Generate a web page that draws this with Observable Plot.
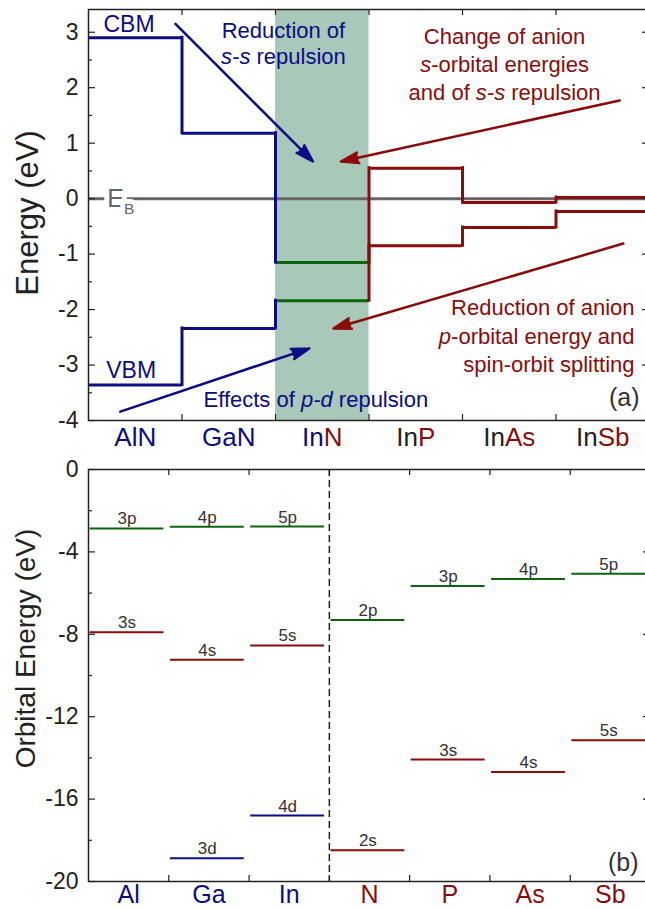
<!DOCTYPE html>
<html><head><meta charset="utf-8">
<script src="https://cdn.jsdelivr.net/npm/d3@7"></script>
<script src="https://cdn.jsdelivr.net/npm/@observablehq/plot@0.6"></script>
<style>
html,body{margin:0;padding:0;background:#fff;overflow:hidden;}
#chart svg{display:block;}
</style></head><body><div id="chart"></div>
<script>
// ---------------- DATA: panel (a) band edges ----------------
const cations = ["Al", "Ga", "In", "In", "In", "In"];
const anions  = ["N", "N", "N", "P", "As", "Sb"];
const cbm = [2.90, 1.18, -1.15, 0.55, -0.07, 0.02];
const vbm = [-3.36, -2.34, -1.84, -0.85, -0.52, -0.23];
const energyTicks = [-4, -3, -2, -1, 0, 1, 2, 3];
const energyMinorTicks = [-3.5, -2.5, -1.5, -0.5, 0.5, 1.5, 2.5];
const highlighted = ["InN"];

// annotations (data coordinates)
const edgeLabels = [{text: "CBM", x: 0.16, y: 3.14}, {text: "VBM", x: 0.19, y: -3.10}];
const refLabel = [{text: "E_{B}", x: 0.2, y: 0}];
const noteSS = [{text: "Reduction of\n*s-s* repulsion", x: 2.085, y: 2.43}];
const noteAnionS = [{text: "Change of anion\n*s*-orbital energies\nand of *s-s* repulsion", x: 4.45, y: 1.78}];
const noteAnionP = [{text: "Reduction of anion\n*p*-orbital energy and\nspin-orbit splitting", x: 5.84, y: -3.13}];
const notePD = [{text: "Effects of *p-d* repulsion", x: 1.23, y: -3.75}];
const blueArrows = [{x1: 0.93, y1: 3.15, x2: 2.40, y2: 0.67}, {x1: 0.34, y1: -3.84, x2: 2.36, y2: -2.70}];
const redArrows = [{x1: 5.68, y1: 1.77, x2: 2.70, y2: 0.67}, {x1: 5.72, y1: -0.81, x2: 2.62, y2: -2.34}];

// ---------------- DATA: panel (b) atomic orbital energies ----------------
const elements = ["Al", "Ga", "In", "N", "P", "As", "Sb"];
const cationElements = ["Al", "Ga", "In"];
const pEnergy = [-2.86, -2.78, -2.77, -7.31, -5.66, -5.32, -5.06];
const pName   = ["3p", "4p", "5p", "2p", "3p", "4p", "5p"];
const sEnergy = [-7.90, -9.24, -8.54, -18.48, -14.08, -14.69, -13.14];
const sName   = ["3s", "4s", "5s", "2s", "3s", "4s", "5s"];
const dElements = ["Ga", "In"];
const dEnergy = [-18.87, -16.80];
const dName   = ["3d", "4d"];
const orbitalTicks = [-20, -16, -12, -8, -4, 0];
const orbitalMinorTicks = [-18, -14, -10, -6, -2];

// ---------------- styles ----------------
const BLUE = "#0c0c86", RED = "#8c0b0b", GREEN = "#0d650d", GRAY = "#666666", BAND = "#a8c8b9", INK = "#222222";
const FONT = "'Liberation Sans', Arial, Helvetica, sans-serif";
const W = 645;
const ML = 88, MR = -4;
const NS = "http://www.w3.org/2000/svg";

function rich(svg) {
  const leaves = [];
  svg.querySelectorAll("text").forEach(t => {
    const kids = t.querySelectorAll("tspan");
    if (kids.length) kids.forEach(k => leaves.push(k)); else leaves.push(t);
  });
  for (const el of leaves) {
    const s = el.textContent;
    if (!/\*|_\{/.test(s)) continue;
    el.textContent = "";
    for (const m of s.matchAll(/\*([^*]+)\*|_\{([^}]+)\}|([^*_]+)/g)) {
      const ts = document.createElementNS(NS, "tspan");
      if (m[1]) { ts.textContent = m[1]; ts.setAttribute("font-style", "italic"); }
      else if (m[2]) { ts.textContent = m[2]; ts.setAttribute("font-size", "0.62em"); ts.setAttribute("dy", "0.5em"); }
      else ts.textContent = m[3];
      el.appendChild(ts);
    }
  }
}

// ---------------- panel (a) ----------------
const HA = 455, MTA = 9, MBA = 35;
const FWA = W - ML - MR, FHA = HA - MTA - MBA;
const stepColor = i => cations[i] !== "In" ? BLUE : anions[i] === "N" ? GREEN : RED;
const steps = [];
const risers = [];
for (const v of [cbm, vbm]) {
  v.forEach((e, i) => {
    steps.push({i, e, c: stepColor(i)});
    if (i > 0) risers.push({i, e0: v[i - 1], e1: e, c: stepColor(i) === GREEN ? stepColor(i - 1) : stepColor(i)});
  });
}
const compounds = cations.map((c, i) => c + anions[i]);
const bandIdx = highlighted.map(n => compounds.indexOf(n));
const boundariesA = d3.range(1, compounds.length);

const plotA = Plot.plot({
  width: W, height: HA, marginLeft: ML, marginRight: MR, marginTop: MTA, marginBottom: MBA,
  style: {fontFamily: FONT, background: "white", color: INK},
  x: {domain: [0, compounds.length], axis: null},
  y: {domain: [-4, 3.41]},
  color: {type: "identity"},
  marks: [
    Plot.rect(bandIdx, {x1: d => d, x2: d => d + 1, fill: BAND}),
    Plot.ruleY([0], {stroke: GRAY, strokeWidth: 3}),
    Plot.ruleY(steps, {y: "e", x1: "i", x2: d => d.i + 1, stroke: "c", strokeWidth: 3}),
    Plot.ruleX(risers, {x: "i", y1: "e0", y2: "e1", stroke: "c", strokeWidth: 3, strokeLinecap: "square"}),
    Plot.frame({stroke: INK, strokeWidth: 1.5}),
    Plot.tickY(energyTicks, {y: d => d, stroke: INK, strokeWidth: 1.2, insetRight: FWA - 7}),
    Plot.tickY(energyMinorTicks, {y: d => d, stroke: INK, strokeWidth: 1.2, insetRight: FWA - 4}),
    Plot.tickY(energyTicks, {y: d => d, stroke: INK, strokeWidth: 1.2, insetLeft: FWA - 7}),
    Plot.tickY(energyMinorTicks, {y: d => d, stroke: INK, strokeWidth: 1.2, insetLeft: FWA - 4}),
    Plot.tickX(boundariesA, {x: d => d, stroke: INK, strokeWidth: 1.2, insetBottom: FHA - 6}),
    Plot.tickX(boundariesA, {x: d => d, stroke: INK, strokeWidth: 1.2, insetTop: FHA - 6}),
    Plot.axisY({ticks: energyTicks, tickSize: 0, tickPadding: 10, tickFormat: d => String(d), fontSize: 23, label: null, fill: INK}),
    Plot.text(["Energy (eV)"], {text: d => d, frameAnchor: "left", rotate: -90, dx: -51, dy: -2, textAnchor: "middle", lineAnchor: "bottom", fontSize: 31, fill: INK}),
    Plot.text(compounds, {x: (d, i) => i + 0.5, text: d => d, frameAnchor: "bottom", dy: 25, lineAnchor: "bottom", fontSize: 26, ariaDescription: "compound-labels"}),
    Plot.text(refLabel, {x: "x", y: "y", text: "text", textAnchor: "start", fontSize: 25, fill: GRAY, stroke: "white", strokeWidth: 10}),
    Plot.text(edgeLabels, {x: "x", y: "y", text: "text", textAnchor: "start", fontSize: 23, fill: BLUE}),
    Plot.text(noteSS, {x: "x", y: "y", text: "text", textAnchor: "middle", lineAnchor: "bottom", lineHeight: 1.18, fontSize: 22, fill: BLUE}),
    Plot.text(notePD, {x: "x", y: "y", text: "text", textAnchor: "start", lineAnchor: "bottom", fontSize: 22, fill: BLUE}),
    Plot.text(noteAnionS, {x: "x", y: "y", text: "text", textAnchor: "middle", lineAnchor: "bottom", lineHeight: 1.27, fontSize: 22, fill: RED}),
    Plot.text(noteAnionP, {x: "x", y: "y", text: "text", textAnchor: "end", lineAnchor: "bottom", lineHeight: 1.29, fontSize: 22, fill: RED}),
    Plot.arrow(blueArrows, {x1: "x1", y1: "y1", x2: "x2", y2: "y2", stroke: BLUE, fill: BLUE, strokeWidth: 2.5, headLength: 11, headAngle: 34}),
    Plot.arrow(redArrows, {x1: "x1", y1: "y1", x2: "x2", y2: "y2", stroke: RED, fill: RED, strokeWidth: 2.5, headLength: 11, headAngle: 34}),
    Plot.text(["(a)"], {text: d => d, frameAnchor: "bottom-right", dx: -10, dy: -15, textAnchor: "end", lineAnchor: "bottom", fontSize: 25, fill: "#333"})
  ]
});
rich(plotA);
plotA.querySelectorAll('g[aria-description="compound-labels"] text').forEach((t, i) => {
  t.textContent = "";
  const parts = [[cations[i], anions[i] === "N" ? BLUE : INK], [anions[i], cations[i] === "In" ? RED : BLUE]];
  for (const [s, c] of parts) {
    const ts = document.createElementNS(NS, "tspan");
    ts.textContent = s; ts.setAttribute("fill", c); t.appendChild(ts);
  }
});

// ---------------- panel (b) ----------------
const HB = 454, MTB = 14, MBB = 28, MRB = -5;
const FWB = W - ML - MRB, FHB = HB - MTB - MBB;
const levels = [];
elements.forEach((el, i) => {
  levels.push({i, e: pEnergy[i], name: pName[i], c: GREEN});
  levels.push({i, e: sEnergy[i], name: sName[i], c: RED});
});
dElements.forEach((el, k) => levels.push({i: elements.indexOf(el), e: dEnergy[k], name: dName[k], c: BLUE}));
const boundariesB = d3.range(1, elements.length);
const divider = [cationElements.length];

const plotB = Plot.plot({
  width: W, height: HB, marginLeft: ML, marginRight: MRB, marginTop: MTB, marginBottom: MBB,
  style: {fontFamily: FONT, background: "white", color: INK},
  x: {domain: [0, elements.length], axis: null},
  y: {domain: [-20, 0]},
  color: {type: "identity"},
  marks: [
    Plot.ruleX(divider, {x: d => d, stroke: INK, strokeWidth: 1.5, strokeDasharray: "7,4"}),
    Plot.ruleY(levels, {y: "e", x1: d => d.i + 0.02, x2: d => d.i + 0.94, stroke: "c", strokeWidth: 2}),
    Plot.text(levels, {x: d => d.i + 0.48, y: "e", text: "name", dy: -4, lineAnchor: "bottom", fontSize: 17, fill: "#333"}),
    Plot.frame({stroke: INK, strokeWidth: 1.5}),
    Plot.tickY(orbitalTicks, {y: d => d, stroke: INK, strokeWidth: 1.2, insetRight: FWB - 7}),
    Plot.tickY(orbitalMinorTicks, {y: d => d, stroke: INK, strokeWidth: 1.2, insetRight: FWB - 4}),
    Plot.tickY(orbitalTicks, {y: d => d, stroke: INK, strokeWidth: 1.2, insetLeft: FWB - 7}),
    Plot.tickY(orbitalMinorTicks, {y: d => d, stroke: INK, strokeWidth: 1.2, insetLeft: FWB - 4}),
    Plot.tickX(boundariesB, {x: d => d, stroke: INK, strokeWidth: 1.2, insetBottom: FHB - 6}),
    Plot.tickX(boundariesB, {x: d => d, stroke: INK, strokeWidth: 1.2, insetTop: FHB - 6}),
    Plot.axisY({ticks: orbitalTicks, tickSize: 0, tickPadding: 10, tickFormat: d => String(d), fontSize: 23, label: null, fill: INK}),
    Plot.text(["Orbital Energy (eV)"], {text: d => d, frameAnchor: "left", rotate: -90, dx: -54, dy: -27, textAnchor: "middle", lineAnchor: "bottom", fontSize: 28, fill: INK}),
    Plot.text(elements, {x: (d, i) => i + 0.5, text: d => d, frameAnchor: "bottom", dy: 21, lineAnchor: "bottom", fontSize: 25,
      fill: d => cationElements.includes(d) ? BLUE : RED}),
    Plot.text(["(b)"], {text: d => d, frameAnchor: "bottom-right", dx: -12, dy: -11, textAnchor: "end", lineAnchor: "bottom", fontSize: 25, fill: "#333"})
  ]
});
rich(plotB);

const chart = document.getElementById("chart");
chart.appendChild(plotA);
chart.appendChild(plotB);
</script>
</body></html>
